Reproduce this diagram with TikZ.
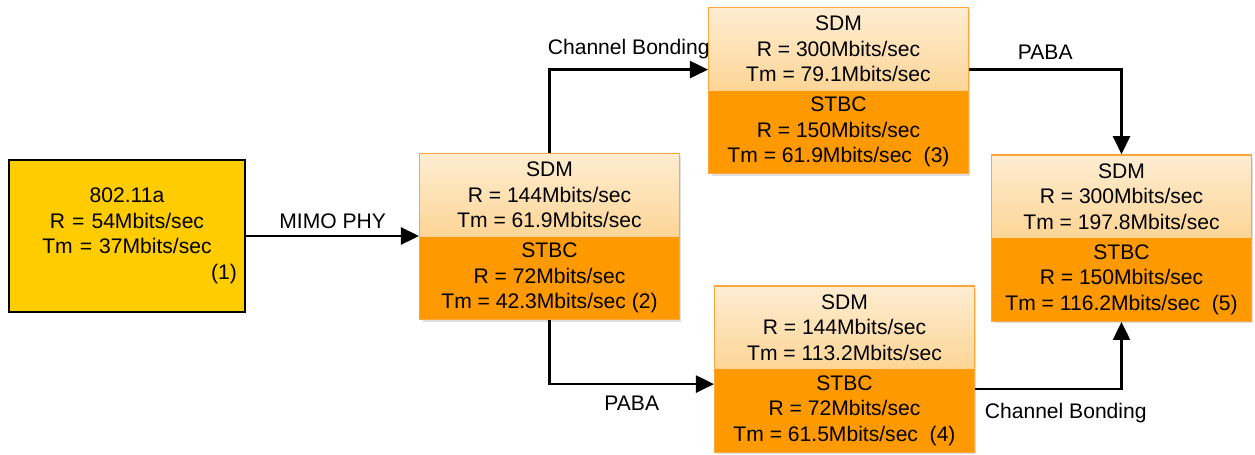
\documentclass[tikz,border=0pt]{standalone}
\usepackage{fontspec}
\setmainfont{Liberation Sans}
\usepackage{xcolor}
\definecolor{phyYellow}{HTML}{FFCC00}
\definecolor{modeTop}{HTML}{FEEDD2}
\definecolor{modeBottom}{HTML}{FDD596}
\definecolor{modeOrange}{HTML}{FF9900}
\definecolor{modeBorder}{HTML}{F9A73E}
\usetikzlibrary{arrows.meta,positioning,fit,shadows}

\tikzset{
  halfbox/.style={rectangle, minimum width=5.18cm, minimum height=1.65cm, inner sep=0pt, align=center,
    drop shadow={shadow xshift=0.05cm, shadow yshift=-0.05cm, opacity=0.25}},
  sdmhalf/.style={halfbox, top color=modeTop, bottom color=modeBottom},
  stbchalf/.style={halfbox, fill=modeOrange},
  modebox/.style={draw=modeBorder, line width=0.8pt, inner sep=0pt},
  phybox/.style={rectangle, draw=black, line width=1.5pt, fill=phyYellow, text width=4.4cm,
    inner xsep=0.16cm, minimum height=3.04cm, align=center},
  link/.style={line width=1.4pt, -{Triangle[length=0.36cm,width=0.34cm]}}
}

\begin{document}
\begin{tikzpicture}[x=0.02cm, y=-0.02cm, font=\fontsize{12}{14.5}\selectfont]
  \useasboundingbox (0,0) rectangle (1255,454);

  \node[phybox] (phy) at (127,236) {802.11a\\R = 54Mbits/sec\\Tm = 37Mbits/sec\hspace*{0.44cm}\\\mbox{}\hfill(1)};

  \node[sdmhalf] (sdmtwo) at (549.5,195) {SDM\\R = 144Mbits/sec\\Tm = 61.9Mbits/sec};
  \node[stbchalf, below=0pt of sdmtwo] (stbctwo) {STBC\\R = 72Mbits/sec\\Tm = 42.3Mbits/sec (2)};
  \node[modebox, fit=(sdmtwo)(stbctwo)] (box2) {};

  \node[sdmhalf] (sdmthree) at (838.5,49) {SDM\\R = 300Mbits/sec\\Tm = 79.1Mbits/sec};
  \node[stbchalf, below=0pt of sdmthree] (stbcthree) {STBC\\R = 150Mbits/sec\\Tm = 61.9Mbits/sec~~(3)};
  \node[modebox, fit=(sdmthree)(stbcthree)] (box3) {};

  \node[sdmhalf] (sdmfour) at (844.5,327.5) {SDM\\R = 144Mbits/sec\\Tm = 113.2Mbits/sec};
  \node[stbchalf, below=0pt of sdmfour] (stbcfour) {STBC\\R = 72Mbits/sec\\Tm = 61.5Mbits/sec~~(4)};
  \node[modebox, fit=(sdmfour)(stbcfour)] (box4) {};

  \node[sdmhalf] (sdmfive) at (1121.5,196.5) {SDM\\R = 300Mbits/sec\\Tm = 197.8Mbits/sec};
  \node[stbchalf, below=0pt of sdmfive] (stbcfive) {STBC\\R = 150Mbits/sec\\Tm = 116.2Mbits/sec~~(5)};
  \node[modebox, fit=(sdmfive)(stbcfive)] (box5) {};

  \draw[link] (phy.east) -- (phy.east -| box2.west) node[midway, above] {MIMO PHY};
  \draw[link] (box2.north) |- ([yshift=0.42cm]box3.west) node[pos=0.75, above=0.08cm] {Channel Bonding};
  \draw[link] (box2.south) |- ([yshift=-0.3cm]box4.west) node[pos=0.75, below=0.1cm] {PABA};
  \draw[link] ([yshift=0.42cm]box3.east) -| (box5.north) node[pos=0.25, above=0.06cm] {PABA};
  \draw[link] ([yshift=-0.4cm]box4.east) -| (box5.south) node[pos=0.25, below=0.14cm, xshift=0.35cm] {Channel Bonding};
\end{tikzpicture}
\end{document}
